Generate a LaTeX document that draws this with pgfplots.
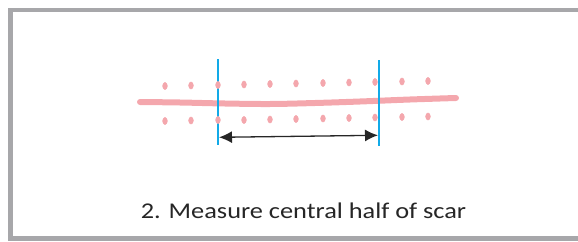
\documentclass[border=0pt]{standalone}
\usepackage{pgfplots}
\pgfplotsset{compat=1.18}
\usetikzlibrary{arrows.meta}
\usepackage{fontspec}
\setmainfont{Carlito}
\definecolor{scar}{HTML}{F4A7AD}
\definecolor{cut}{HTML}{12AAE8}
\definecolor{frame}{HTML}{A7A7AA}
\definecolor{txt}{HTML}{262626}
\begin{document}
\begin{tikzpicture}
\begin{axis}[
  width=578pt, height=241pt, scale only axis,
  hide axis, xmin=0, xmax=578, ymin=0, ymax=241, y dir=reverse,
  clip=true,
]
% frame (open to the right)
\addplot[frame, line width=4.8pt, line join=miter] coordinates {(600,10) (10.5,10) (10.5,238.5) (600,238.5)};
% scar line
\addplot[scar, line width=6pt, line cap=round, smooth, tension=0.6] coordinates {
 (140,102) (180,102.5) (225,103.5) (270,104) (315,103) (360,101.5) (410,99.5) (456,98)};
% top row of stitch dots
\addplot[only marks, mark=*, mark size=3pt, mark options={scar, draw=scar, fill=scar, xscale=0.8, yscale=1.2}] coordinates {
 (165,86) (191,85.5) (218,85) (244,84.5) (270,84) (296,83.5) (323,83) (349,82.5) (375,82) (402,81.5) (428,81)};
% bottom row of stitch dots
\addplot[only marks, mark=*, mark size=3pt, mark options={scar, draw=scar, fill=scar, xscale=0.8, yscale=1.2}] coordinates {
 (165,121) (191,120.5) (218,120) (244,120) (270,119.5) (296,119) (323,118.5) (349,118) (375,117.5) (402,117) (428,116.5)};
% cut lines
\addplot[cut, line width=1.3pt] coordinates {(218,59) (218,145)};
\addplot[cut, line width=1.3pt] coordinates {(379,60) (379,146)};
% measuring arrow
\addplot[txt, line width=1.3pt, {Latex[length=13pt,width=12pt]}-{Latex[length=13pt,width=12pt]}] coordinates {(219,137.3) (378,135.3)};
\node[anchor=base, text=txt, font=\fontsize{22.5}{26}\selectfont, xscale=1.17] at (axis cs:303.5,218.5) {2. Measure central half of scar};
\end{axis}
\pgfresetboundingbox
\path (0,0) rectangle (578pt,241pt);
\end{tikzpicture}
\end{document}
